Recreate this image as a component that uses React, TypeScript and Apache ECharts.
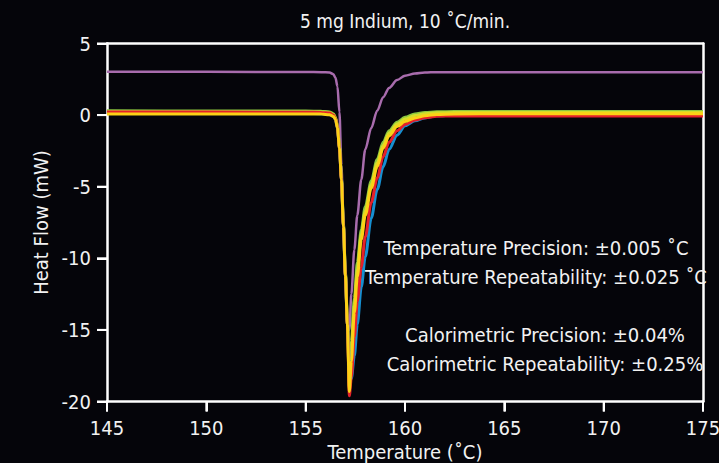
import React, { useEffect, useRef } from "react";
import * as echarts from "echarts";

const temps = [145, 150, 155, 155.8, 156.2, 156.4, 156.5, 156.6, 156.7, 156.8, 156.9, 157.0, 157.1, 157.2, 157.3, 157.45, 157.6, 157.8, 158.0, 158.3, 158.6, 158.9, 159.2, 159.6, 160.0, 160.5, 161.0, 161.6, 162.5, 165, 170, 175];

const purpleVals = [3.02, 3.02, 3.01, 3.0, 2.98, 2.85, 2.6, 2.0, 0.2, -3.5, -7.5, -11.0, -14.5, -15.0, -12.5, -9.4, -7.0, -4.5, -2.4, -0.9, 0.3, 1.25, 1.9, 2.45, 2.75, 2.9, 2.97, 3.0, 3.0, 3.0, 3.0, 3.0];
const greenVals = [0.3, 0.29, 0.28, 0.27, 0.22, 0.1, -0.15, -0.75, -2.1, -4.3, -7.6, -11.0, -14.4, -19.0, -15.8, -12.8, -10.3, -8.0, -6.4, -4.6, -3.1, -1.9, -1.1, -0.5, -0.15, 0.08, 0.18, 0.23, 0.25, 0.25, 0.25, 0.25];
const limeVals = [0.24, 0.23, 0.22, 0.21, 0.16, 0.04, -0.2, -0.8, -2.2, -4.4, -7.7, -11.1, -14.5, -19.1, -16.5, -13.3, -10.8, -8.3, -6.7, -4.85, -3.35, -2.1, -1.25, -0.62, -0.28, -0.03, 0.1, 0.16, 0.18, 0.18, 0.18, 0.18];
const blueVals = [0.12, 0.12, 0.11, 0.1, 0.05, -0.08, -0.3, -0.9, -2.3, -4.5, -7.8, -11.2, -14.6, -17.0, -18.4, -16.8, -14.6, -12.0, -9.9, -7.2, -5.2, -3.6, -2.4, -1.4, -0.75, -0.4, -0.2, -0.05, 0.0, 0.02, 0.02, 0.02];
const redVals = [0.22, 0.21, 0.2, 0.19, 0.14, 0.0, -0.25, -0.85, -2.3, -4.5, -7.8, -11.2, -14.6, -19.6, -18.3, -15.5, -13.0, -10.6, -8.5, -6.1, -4.4, -2.9, -1.9, -1.1, -0.65, -0.35, -0.18, -0.08, -0.06, -0.07, -0.07, -0.07];
const yellowVals = [0.08, 0.08, 0.08, 0.07, 0.03, -0.1, -0.3, -0.9, -2.3, -4.5, -7.8, -11.2, -14.6, -19.3, -17.2, -13.8, -11.3, -8.7, -7.0, -5.1, -3.6, -2.3, -1.45, -0.8, -0.45, -0.2, -0.05, 0.05, 0.08, 0.1, 0.1, 0.1];

const xTicks = [145, 150, 155, 160, 165, 170, 175];
const yTicks = [-20, -15, -10, -5, 0, 5];

const seriesDefs = [
  { name: "Run P", color: "#a86cad", values: purpleVals, width: 2.5 },
  { name: "Run G", color: "#8cc63f", values: greenVals, width: 3 },
  { name: "Run L", color: "#d4dd2a", values: limeVals, width: 3 },
  { name: "Run B", color: "#168fd0", values: blueVals, width: 3 },
  { name: "Run R", color: "#e5202a", values: redVals, width: 3 },
  { name: "Run Y", color: "#fcd116", values: yellowVals, width: 3 },
];

const titleText = "5 mg Indium, 10 ˚C/min.";
const notes = [
  "Temperature Precision: ±0.005 ˚C",
  "Temperature Repeatability: ±0.025 ˚C",
  "Calorimetric Precision: ±0.04%",
  "Calorimetric Repeatability: ±0.25%",
];

const FONT = "'Liberation Sans Narrow', 'DejaVu Sans Condensed', 'Liberation Sans', sans-serif";
const TXT = "#f2f2f2";
const LINE = { color: "#ffffff", width: 2.5 };
const TICK_LEN = 10;

export default function App() {
  const ref = useRef<HTMLDivElement>(null);
  useEffect(() => {
    if (!ref.current) return;
    const chart = echarts.init(ref.current, null, { renderer: "svg" });
    const notePos = [
      [536, 248],
      [536, 277],
      [545, 335],
      [545, 364],
    ];
    const xMin = xTicks[0];
    const xMax = xTicks[xTicks.length - 1];
    const yMin = yTicks[0];
    const yMax = yTicks[yTicks.length - 1];
    const textGraphics: any[] = [
      {
        type: "text",
        x: 405,
        y: 21,
        style: {
          text: titleText,
          fill: TXT,
          fontSize: 19,
          fontFamily: FONT,
          textAlign: "center",
          textVerticalAlign: "middle",
        },
      },
      ...notes.map((t, i) => ({
        type: "text",
        x: notePos[i][0],
        y: notePos[i][1],
        z: 100,
        style: {
          text: t,
          fill: TXT,
          fontSize: 20,
          fontFamily: FONT,
          textAlign: "center",
          textVerticalAlign: "middle",
        },
      })),
    ];

    const lineSeries = seriesDefs.map((s) => ({
      name: s.name,
      type: "line",
      xAxisIndex: 0,
      yAxisIndex: 0,
      showSymbol: false,
      symbol: "none",
      smooth: 0.3,
      smoothMonotone: "x",
      data: temps.map((t, i) => [t, s.values[i]]),
      lineStyle: { color: s.color, width: s.width },
      itemStyle: { color: s.color },
    }));

    chart.setOption({
      animation: false,
      backgroundColor: "#05050a",
      textStyle: { fontFamily: FONT },
      grid: {
        left: 107,
        right: 16,
        top: 43.5,
        bottom: 61.5,
        show: false,
        containLabel: false,
        outerBoundsMode: "none",
      },
      xAxis: [
        {
          type: "value",
          position: "bottom",
          min: xMin,
          max: xMax,
          interval: 5,
          name: "Temperature (˚C)",
          nameLocation: "middle",
          nameGap: 40,
          nameTextStyle: { color: TXT, fontSize: 20, fontFamily: FONT },
          axisLine: { show: true, onZero: false, lineStyle: LINE },
          axisTick: { show: true, inside: false, length: TICK_LEN, lineStyle: { color: "#ffffff", width: 2 } },
          axisLabel: { show: true, color: TXT, fontSize: 20, margin: 16, fontFamily: FONT },
          splitLine: { show: false },
        },
        {
          type: "value",
          position: "top",
          min: xMin,
          max: xMax,
          interval: 5,
          axisLine: { show: true, onZero: false, lineStyle: LINE },
          axisTick: { show: false },
          axisLabel: { show: false },
          splitLine: { show: false },
        },
      ],
      yAxis: [
        {
          type: "value",
          position: "left",
          min: yMin,
          max: yMax,
          interval: 5,
          name: "Heat Flow (mW)",
          nameLocation: "middle",
          nameGap: 56,
          nameRotate: 90,
          nameTextStyle: { color: TXT, fontSize: 20, fontFamily: FONT },
          axisLine: { show: true, onZero: false, lineStyle: LINE },
          axisTick: { show: true, inside: false, length: TICK_LEN, lineStyle: { color: "#ffffff", width: 2 } },
          axisLabel: { show: true, color: TXT, fontSize: 20, margin: 16, fontFamily: FONT },
          splitLine: { show: false },
        },
        {
          type: "value",
          position: "right",
          min: yMin,
          max: yMax,
          interval: 5,
          axisLine: { show: true, onZero: false, lineStyle: LINE },
          axisTick: { show: false },
          axisLabel: { show: false },
          splitLine: { show: false },
        },
      ],
      graphic: textGraphics,
      series: lineSeries,
    });

    // Outward tick marks as filled rects, positioned through the grid's own scales
    const tickGraphics: any[] = [];
    try {
      xTicks.forEach((v) => {
        const p = chart.convertToPixel({ gridIndex: 0 } as any, [v, yMin]) as any;
        if (Array.isArray(p) && isFinite(p[0]) && isFinite(p[1])) {
          tickGraphics.push({
            type: "rect",
            z: 200,
            silent: true,
            shape: { x: p[0] - 1, y: p[1], width: 2, height: TICK_LEN },
            style: { fill: "#ffffff" },
          });
        }
      });
      yTicks.forEach((v) => {
        const p = chart.convertToPixel({ gridIndex: 0 } as any, [xMin, v]) as any;
        if (Array.isArray(p) && isFinite(p[0]) && isFinite(p[1])) {
          tickGraphics.push({
            type: "rect",
            z: 200,
            silent: true,
            shape: { x: p[0] - TICK_LEN, y: p[1] - 1, width: TICK_LEN, height: 2 },
            style: { fill: "#ffffff" },
          });
        }
      });
    } catch (e) {
      // leave ticks to the axes
    }
    if (tickGraphics.length) {
      chart.setOption({ graphic: [...textGraphics, ...tickGraphics] });
    }

    return () => chart.dispose();
  }, []);
  return <div ref={ref} style={{ width: 719, height: 463, position: "absolute", left: 0, top: 0 }} />;
}
